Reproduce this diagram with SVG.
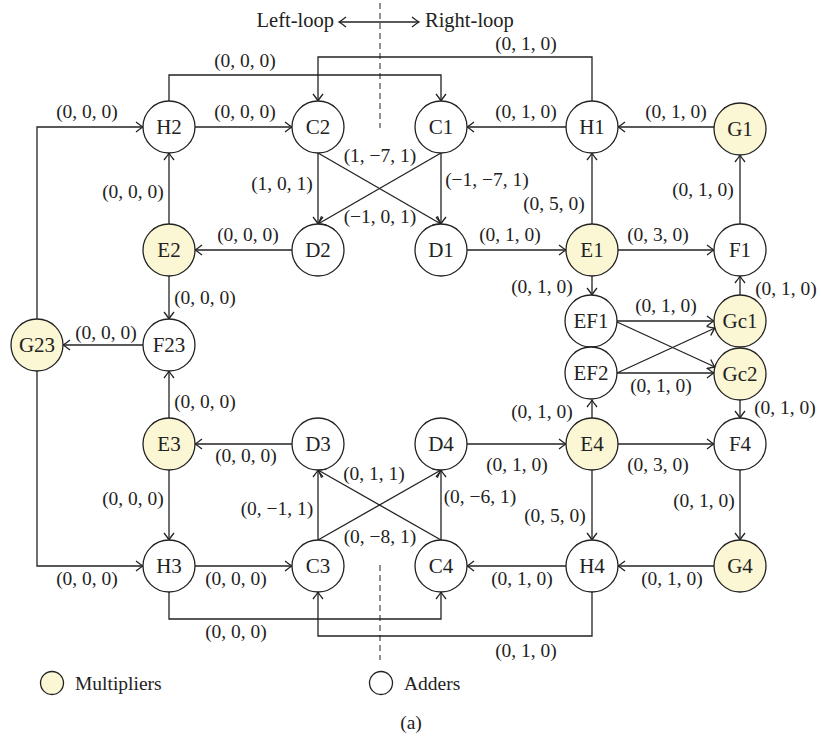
<svg xmlns="http://www.w3.org/2000/svg" width="821" height="742" viewBox="0 0 821 742">
  <style>
    text { font-family: "Liberation Serif", "DejaVu Serif", serif; font-size: 19.5px; fill: #222; }
    .lbl { text-anchor: middle; }
    .big { font-size: 20.5px; }
    .node circle { stroke: #222; stroke-width: 1.3; fill: #fff; }
    .node.mul circle { fill: #fbf6d3; }
    .node text { text-anchor: middle; dominant-baseline: central; font-size: 21px; }
    .edge { fill: none; stroke: #222; stroke-width: 1.3; marker-end: url(#ah); }
    .plain { fill: none; stroke: #222; stroke-width: 1.3; }
    .dash { fill: none; stroke: #555; stroke-width: 1.3; stroke-dasharray: 6 4; }
  </style>
  <defs>
    <marker id="ah" viewBox="-10 -7 12 14" refX="0" refY="0" markerWidth="12" markerHeight="14" orient="auto-start-reverse" markerUnits="userSpaceOnUse">
      <path d="M-7,-5 Q-2,-1 0,0 Q-2,1 -7,5" fill="none" stroke="#222" stroke-width="1.3"/>
    </marker>
  </defs>

  <rect width="821" height="742" fill="#fff"/>

  <!-- loop divider -->
  <g id="divider">
    <line class="dash" x1="380" y1="3" x2="380" y2="128"/>
    <line class="dash" x1="380" y1="565" x2="380" y2="660"/>
    <line class="plain" x1="339" y1="22" x2="419" y2="22" marker-start="url(#ah)" marker-end="url(#ah)"/>
    <text class="big" x="334" y="27" text-anchor="end">Left-loop</text>
    <text class="big" x="425" y="27">Right-loop</text>
  </g>

  <!-- connectors -->
  <g id="connectors">
    <!-- top feedback loops -->
    <path class="edge" d="M169,101 V75 H441 V101"/>
    <text class="lbl" x="245" y="67">(0, 0, 0)</text>
    <path class="edge" d="M592,101 V57 H318 V101"/>
    <text class="lbl" x="526" y="50">(0, 1, 0)</text>

    <path class="edge" d="M37,319 V127 H143"/>
    <text class="lbl" x="87" y="118">(0, 0, 0)</text>
    <path class="edge" d="M195,127 H292"/>
    <text class="lbl" x="245" y="118">(0, 0, 0)</text>
    <path class="edge" d="M566,127 H467"/>
    <text class="lbl" x="526" y="118">(0, 1, 0)</text>
    <path class="edge" d="M714,127 H618"/>
    <text class="lbl" x="676" y="118">(0, 1, 0)</text>

    <!-- C1/C2 to D1/D2 -->
    <path class="edge" d="M318,153 V224"/>
    <text class="lbl" x="282" y="190">(1, 0, 1)</text>
    <path class="edge" d="M318,153 L441,224"/>
    <text class="lbl" x="380" y="162">(1, −7, 1)</text>
    <path class="edge" d="M441,153 L318,224"/>
    <text class="lbl" x="380" y="223">(−1, 0, 1)</text>
    <path class="edge" d="M441,153 V224"/>
    <text class="lbl" x="487" y="186">(−1, −7, 1)</text>

    <path class="edge" d="M592,224 V153"/>
    <text class="lbl" x="554" y="210">(0, 5, 0)</text>
    <path class="edge" d="M740,224 V155"/>
    <text class="lbl" x="703" y="196">(0, 1, 0)</text>
    <path class="edge" d="M169,224 V153"/>
    <text class="lbl" x="133" y="198">(0, 0, 0)</text>

    <path class="edge" d="M292,250 H195"/>
    <text class="lbl" x="248" y="241">(0, 0, 0)</text>
    <path class="edge" d="M467,250 H566"/>
    <text class="lbl" x="510" y="241">(0, 1, 0)</text>
    <path class="edge" d="M618,250 H714"/>
    <text class="lbl" x="658" y="241">(0, 3, 0)</text>

    <!-- middle section -->
    <path class="edge" d="M169,276 V319"/>
    <text class="lbl" x="205" y="304">(0, 0, 0)</text>
    <path class="edge" d="M143,345 H63"/>
    <text class="lbl" x="106" y="339">(0, 0, 0)</text>
    <path class="edge" d="M169,418 V371"/>
    <text class="lbl" x="205" y="408">(0, 0, 0)</text>

    <path class="edge" d="M592,276 V295"/>
    <text class="lbl" x="542" y="293">(0, 1, 0)</text>
    <path class="edge" d="M740,295 V276"/>
    <text class="lbl" x="786" y="295">(0, 1, 0)</text>
    <path class="edge" d="M616,321 H714"/>
    <text class="lbl" x="666" y="312">(0, 1, 0)</text>
    <path class="edge" d="M617,322 L715,367"/>
    <path class="edge" d="M617,373 L715,328"/>
    <path class="edge" d="M616,373 H714"/>
    <text class="lbl" x="661" y="392">(0, 1, 0)</text>
    <path class="edge" d="M740,400 V418"/>
    <text class="lbl" x="785" y="414">(0, 1, 0)</text>
    <path class="edge" d="M592,418 V400"/>
    <text class="lbl" x="542" y="418">(0, 1, 0)</text>

    <!-- lower half -->
    <path class="edge" d="M292,444 H195"/>
    <text class="lbl" x="246" y="462">(0, 0, 0)</text>
    <path class="edge" d="M467,444 H566"/>
    <text class="lbl" x="517" y="471">(0, 1, 0)</text>
    <path class="edge" d="M618,444 H714"/>
    <text class="lbl" x="658" y="471">(0, 3, 0)</text>

    <path class="edge" d="M169,470 V540"/>
    <text class="lbl" x="133" y="505">(0, 0, 0)</text>
    <path class="edge" d="M318,540 V470"/>
    <text class="lbl" x="277" y="515">(0, −1, 1)</text>
    <path class="edge" d="M318,540 L441,470"/>
    <text class="lbl" x="380" y="543">(0, −8, 1)</text>
    <path class="edge" d="M441,540 L318,470"/>
    <text class="lbl" x="374" y="480">(0, 1, 1)</text>
    <path class="edge" d="M441,540 V470"/>
    <text class="lbl" x="480" y="503">(0, −6, 1)</text>
    <path class="edge" d="M592,470 V540"/>
    <text class="lbl" x="555" y="522">(0, 5, 0)</text>
    <path class="edge" d="M740,470 V540"/>
    <text class="lbl" x="704" y="507">(0, 1, 0)</text>

    <path class="edge" d="M37,371 V566 H143"/>
    <text class="lbl" x="87" y="585">(0, 0, 0)</text>
    <path class="edge" d="M195,566 H292"/>
    <text class="lbl" x="236" y="585">(0, 0, 0)</text>
    <path class="edge" d="M566,566 H467"/>
    <text class="lbl" x="522" y="585">(0, 1, 0)</text>
    <path class="edge" d="M714,566 H618"/>
    <text class="lbl" x="672" y="585">(0, 1, 0)</text>

    <!-- bottom feedback loops -->
    <path class="edge" d="M169,592 V619 H441 V592"/>
    <text class="lbl" x="236" y="638">(0, 0, 0)</text>
    <path class="edge" d="M592,592 V636 H318 V592"/>
    <text class="lbl" x="526" y="657">(0, 1, 0)</text>
  </g>

  <!-- nodes -->
  <g id="H2" class="node"><circle cx="169" cy="127" r="26"/><text x="169" y="127">H2</text></g>
  <g id="C2" class="node"><circle cx="318" cy="127" r="26"/><text x="318" y="127">C2</text></g>
  <g id="C1" class="node"><circle cx="441" cy="127" r="26"/><text x="441" y="127">C1</text></g>
  <g id="H1" class="node"><circle cx="592" cy="127" r="26"/><text x="592" y="127">H1</text></g>
  <g id="G1" class="node mul"><circle cx="740" cy="129" r="26"/><text x="740" y="129">G1</text></g>

  <g id="E2" class="node mul"><circle cx="169" cy="250" r="26"/><text x="169" y="250">E2</text></g>
  <g id="D2" class="node"><circle cx="318" cy="250" r="26"/><text x="318" y="250">D2</text></g>
  <g id="D1" class="node"><circle cx="441" cy="250" r="26"/><text x="441" y="250">D1</text></g>
  <g id="E1" class="node mul"><circle cx="592" cy="250" r="26"/><text x="592" y="250">E1</text></g>
  <g id="F1" class="node"><circle cx="740" cy="250" r="26"/><text x="740" y="250">F1</text></g>

  <g id="EF1" class="node"><circle cx="591" cy="321" r="26"/><text x="591" y="321">EF1</text></g>
  <g id="EF2" class="node"><circle cx="591" cy="373" r="26"/><text x="591" y="373">EF2</text></g>
  <g id="Gc1" class="node mul"><circle cx="740" cy="321" r="26"/><text x="740" y="321">Gc1</text></g>
  <g id="Gc2" class="node mul"><circle cx="740" cy="374" r="26"/><text x="740" y="374">Gc2</text></g>

  <g id="G23" class="node mul"><circle cx="37" cy="345" r="26"/><text x="37" y="345">G23</text></g>
  <g id="F23" class="node"><circle cx="169" cy="345" r="26"/><text x="169" y="345">F23</text></g>

  <g id="E3" class="node mul"><circle cx="169" cy="444" r="26"/><text x="169" y="444">E3</text></g>
  <g id="D3" class="node"><circle cx="318" cy="444" r="26"/><text x="318" y="444">D3</text></g>
  <g id="D4" class="node"><circle cx="441" cy="444" r="26"/><text x="441" y="444">D4</text></g>
  <g id="E4" class="node mul"><circle cx="592" cy="444" r="26"/><text x="592" y="444">E4</text></g>
  <g id="F4" class="node"><circle cx="740" cy="444" r="26"/><text x="740" y="444">F4</text></g>

  <g id="H3" class="node"><circle cx="169" cy="566" r="26"/><text x="169" y="566">H3</text></g>
  <g id="C3" class="node"><circle cx="318" cy="566" r="26"/><text x="318" y="566">C3</text></g>
  <g id="C4" class="node"><circle cx="441" cy="566" r="26"/><text x="441" y="566">C4</text></g>
  <g id="H4" class="node"><circle cx="592" cy="566" r="26"/><text x="592" y="566">H4</text></g>
  <g id="G4" class="node mul"><circle cx="740" cy="566" r="26"/><text x="740" y="566">G4</text></g>

  <!-- legend -->
  <g id="legend">
    <circle cx="52" cy="683" r="11.5" fill="#fbf6d3" stroke="#222" stroke-width="1.3"/>
    <text x="75" y="690" font-size="21">Multipliers</text>
    <circle cx="381" cy="683" r="11.5" fill="#fff" stroke="#222" stroke-width="1.3"/>
    <text x="404" y="690" font-size="21">Adders</text>
    <text x="411" y="729" text-anchor="middle" font-size="17">(a)</text>
  </g>
</svg>
